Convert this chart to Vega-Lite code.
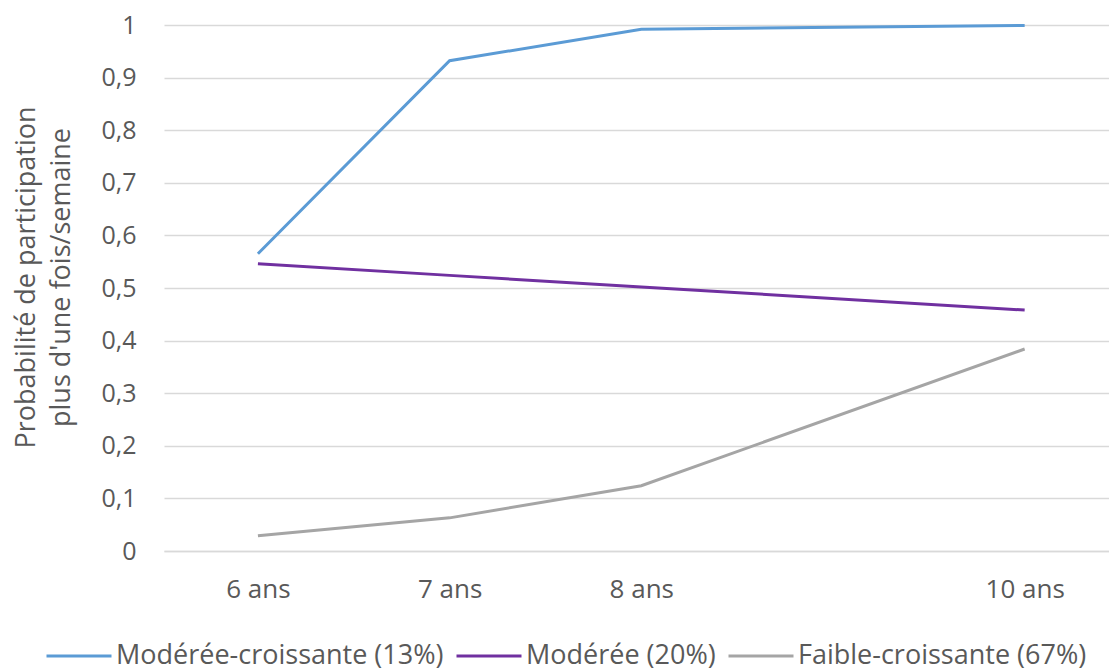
{
  "$schema": "https://vega.github.io/schema/vega-lite/v6.json",
  "width": 945,
  "height": 526,
  "autosize": "none",
  "padding": {"left": 164, "top": 25, "right": 0, "bottom": 120},
  "background": "white",
  "config": {
    "view": {"stroke": null},
    "font": "Open Sans"
  },
  "data": {
    "values": [
      {"age": 6, "prob": 0.565, "groupe": "Modérée-croissante (13%)"},
      {"age": 7, "prob": 0.932, "groupe": "Modérée-croissante (13%)"},
      {"age": 8, "prob": 0.992, "groupe": "Modérée-croissante (13%)"},
      {"age": 10, "prob": 0.999, "groupe": "Modérée-croissante (13%)"},
      {"age": 6, "prob": 0.546, "groupe": "Modérée (20%)"},
      {"age": 7, "prob": 0.524, "groupe": "Modérée (20%)"},
      {"age": 8, "prob": 0.502, "groupe": "Modérée (20%)"},
      {"age": 10, "prob": 0.458, "groupe": "Modérée (20%)"},
      {"age": 6, "prob": 0.029, "groupe": "Faible-croissante (67%)"},
      {"age": 7, "prob": 0.063, "groupe": "Faible-croissante (67%)"},
      {"age": 8, "prob": 0.124, "groupe": "Faible-croissante (67%)"},
      {"age": 10, "prob": 0.384, "groupe": "Faible-croissante (67%)"}
    ]
  },
  "mark": {"type": "line", "strokeWidth": 3},
  "encoding": {
    "x": {
      "field": "age",
      "type": "quantitative",
      "scale": {"domain": [5.51, 10.44], "nice": false, "zero": false},
      "axis": {
        "values": [6, 7, 8, 10],
        "labelExpr": "datum.value + ' ans'",
        "title": null,
        "grid": false,
        "ticks": false,
        "domain": true,
        "domainColor": "#d9d9d9",
        "domainWidth": 1.5,
        "labelPadding": 25,
        "labelFontSize": 26,
        "labelColor": "#595959"
      }
    },
    "y": {
      "field": "prob",
      "type": "quantitative",
      "scale": {"domain": [0, 1], "nice": false},
      "axis": {
        "values": [0, 0.1, 0.2, 0.3, 0.4, 0.5, 0.6, 0.7, 0.8, 0.9, 1],
        "labelExpr": "replace(format(datum.value, '.1~f'), '.', ',')",
        "grid": true,
        "gridColor": "#d9d9d9",
        "gridWidth": 1.5,
        "domain": false,
        "ticks": false,
        "labelPadding": 28,
        "labelFontSize": 25,
        "labelColor": "#595959",
        "title": ["Probabilité de participation", "plus d'une fois/semaine"],
        "titleFontSize": 27,
        "titleFontWeight": "normal",
        "titleColor": "#595959",
        "titlePadding": 25,
        "titleLineHeight": 35,
        "titleY": 252
      }
    },
    "color": {
      "field": "groupe",
      "type": "nominal",
      "sort": ["Modérée-croissante (13%)", "Modérée (20%)", "Faible-croissante (67%)"],
      "scale": {
        "domain": ["Modérée-croissante (13%)", "Modérée (20%)", "Faible-croissante (67%)"],
        "range": ["#5b9bd5", "#7030a0", "#a5a5a5"]
      },
      "legend": {
        "title": null,
        "orient": "none",
        "legendX": -119,
        "legendY": 597,
        "direction": "horizontal",
        "symbolType": "stroke",
        "symbolSize": 4225,
        "symbolStrokeWidth": 3,
        "labelFontSize": 27,
        "labelColor": "#595959",
        "labelOffset": 3,
        "columnPadding": 6,
        "labelLimit": 400
      }
    }
  }
}
